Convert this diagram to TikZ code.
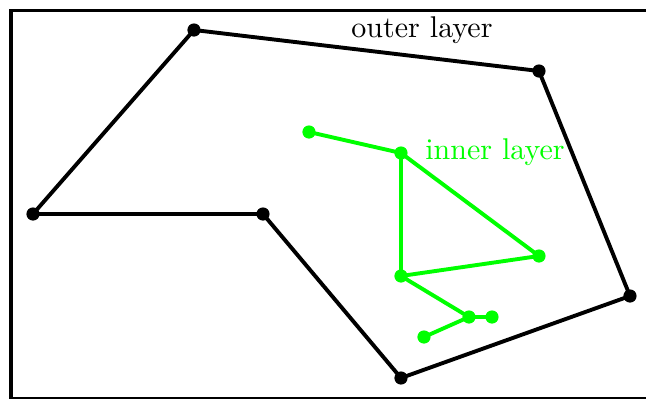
\documentclass[tikz,border=0pt]{standalone}
\begin{document}
\begin{tikzpicture}[x=0.3333pt,y=-0.3333pt,
  odot/.style={circle,fill=black,inner sep=0pt,minimum size=4.4pt},
  gdot/.style={circle,fill=green,inner sep=0pt,minimum size=4.4pt},
  oline/.style={line width=1.3pt,black},
  gline/.style={line width=1.3pt,green}]
\useasboundingbox (0,0) rectangle (646,399);
\draw[line width=1pt] (11,10) rectangle (650,398);
% outer layer
\node[odot] (o1) at (194,30) {};
\node[odot] (o2) at (539,71) {};
\node[odot] (o3) at (630,296) {};
\node[odot] (o4) at (401,378) {};
\node[odot] (o5) at (263,214) {};
\node[odot] (o6) at (33,214) {};
\draw[oline] (o1.center) -- (o2.center) -- (o3.center) -- (o4.center) -- (o5.center) -- (o6.center) -- (o1.center);
% inner layer
\node[gdot] (g1) at (309,132) {};
\node[gdot] (g2) at (401,153) {};
\node[gdot] (g3) at (539,256) {};
\node[gdot] (g4) at (401,276) {};
\node[gdot] (g5) at (469,317) {};
\node[gdot] (g6) at (492,317) {};
\node[gdot] (g7) at (424,337) {};
\draw[gline] (g1.center) -- (g2.center) -- (g4.center);
\draw[gline] (g2.center) -- (g3.center) -- (g4.center) -- (g5.center) -- (g6.center);
\draw[gline] (g5.center) -- (g7.center);
\node[inner sep=0pt] (lo) at (422,30) {outer layer};
\node[inner sep=0pt,text=green] (li) at (495,152) {inner layer};
\end{tikzpicture}
\end{document}
